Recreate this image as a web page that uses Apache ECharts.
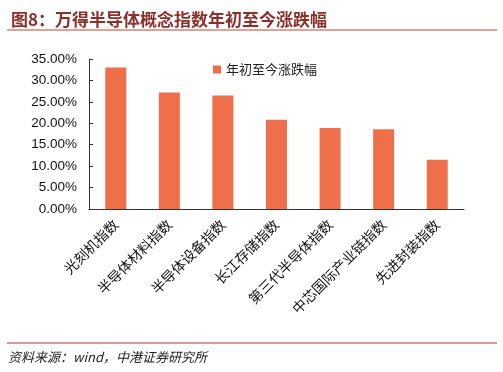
<!DOCTYPE html>
<html><head><meta charset="utf-8">
<script src="https://cdn.jsdelivr.net/npm/echarts@6/dist/echarts.min.js"></script>
<style>html,body{margin:0;padding:0;background:#fff;}#c{width:503px;height:372px;}</style>
</head><body><div id="c"></div>
<script>
const categories = ['光刻机指数','半导体材料指数','半导体设备指数','长江存储指数','第三代半导体指数','中芯国际产业链指数','先进封装指数'];
const values = [33.0, 27.2, 26.5, 20.8, 18.9, 18.6, 11.5];
const seriesName = '年初至今涨跌幅';
const titleText = '图8：万得半导体概念指数年初至今涨跌幅';
const sourceText = '资料来源：wind，中港证券研究所';

const chart = echarts.init(document.getElementById('c'), null, {renderer:'canvas'});
const font = '"Noto Sans CJK SC", "Liberation Sans", sans-serif';
chart.setOption({
  animation:false,
  backgroundColor:'#fff',
  title:{text:titleText, left:6, top:6, textStyle:{color:'#8a2f2a', fontSize:17, fontWeight:'bold', fontFamily:font}},
  graphic:[
    {type:'line', shape:{x1:7,y1:30,x2:497,y2:30}, style:{stroke:'#c0452a', lineWidth:1}},
    {type:'line', shape:{x1:7,y1:343,x2:497,y2:343}, style:{stroke:'#a8382a', lineWidth:1}},
    {type:'text', left:8, top:351, style:{text:sourceText, fill:'#222', font:'italic 13px ' + font}}
  ],
  legend:{data:[seriesName], left:208, top:58, itemWidth:8, itemHeight:8, itemGap:4, icon:'rect',
    textStyle:{fontSize:13, color:'#222', fontFamily:font}},
  grid:{left:89, right:39, top:59, bottom:163},
  xAxis:{type:'category', data:categories,
    axisLine:{lineStyle:{color:'#333', width:1}},
    axisTick:{inside:true, length:4, lineStyle:{color:'#333'}},
    axisLabel:{rotate:45, fontSize:14, color:'#111', margin:13, fontFamily:font, interval:0}},
  yAxis:{type:'value', min:0, max:35, interval:5,
    axisLine:{show:true, lineStyle:{color:'#333', width:1}},
    axisTick:{show:true, inside:true, length:4, lineStyle:{color:'#333'}},
    splitLine:{show:false},
    axisLabel:{formatter:v=>v.toFixed(2)+'%', fontSize:13.5, color:'#111', margin:12, fontFamily:'"Liberation Sans", Arial, sans-serif'}},
  series:[{name:seriesName, type:'bar', data:values, barWidth:21,
    itemStyle:{color:'#ee6f4a'}}]
});
</script></body></html>
